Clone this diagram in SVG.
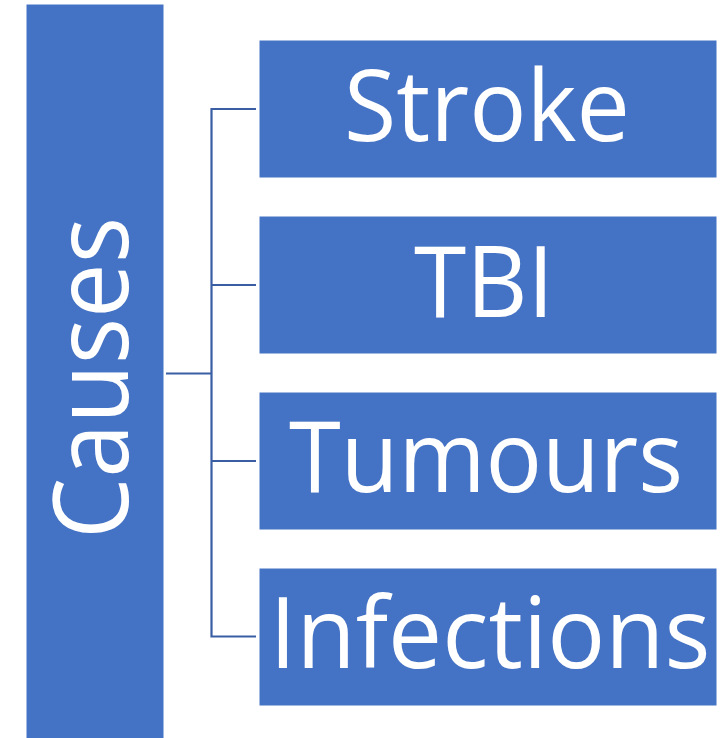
<svg xmlns="http://www.w3.org/2000/svg" width="728" height="738" viewBox="0 0 728 738">
  <style>
    .box { fill: #4472C4; stroke: #ffffff; stroke-width: 1; }
    .lbl { fill: #ffffff; font-family: "Open Sans", "Noto Sans", "Liberation Sans", sans-serif; font-size: 98px; text-anchor: middle; }
    .conn { fill: none; stroke: #3A5EA4; stroke-width: 2.2; }
  </style>
  <rect width="728" height="738" fill="#ffffff"/>
  <g id="connectors">
    <path class="conn" d="M166 373.5 H211.5"/>
    <path class="conn" d="M256 109 H211.5 V636.5 H256"/>
    <path class="conn" d="M211.5 285 H256"/>
    <path class="conn" d="M211.5 461 H256"/>
  </g>
  <g id="causes">
    <rect class="box" x="26" y="4" width="138" height="736"/>
    <text class="lbl" style="font-size:105px" transform="translate(128,378) rotate(-90)" x="0" y="0" textLength="322" lengthAdjust="spacingAndGlyphs">Causes</text>
  </g>
  <g id="stroke">
    <rect class="box" x="259" y="40" width="458" height="138"/>
    <text class="lbl" x="487" y="141" textLength="286" lengthAdjust="spacingAndGlyphs">Stroke</text>
  </g>
  <g id="tbi">
    <rect class="box" x="259" y="216" width="458" height="138"/>
    <text class="lbl" x="484" y="317" textLength="140" lengthAdjust="spacingAndGlyphs">TBI</text>
  </g>
  <g id="tumours">
    <rect class="box" x="259" y="392" width="458" height="138"/>
    <text class="lbl" x="486" y="492" textLength="394" lengthAdjust="spacingAndGlyphs">Tumours</text>
  </g>
  <g id="infections">
    <rect class="box" x="259" y="568" width="458" height="138"/>
    <text class="lbl" x="490" y="668" textLength="441" lengthAdjust="spacingAndGlyphs">Infections</text>
  </g>
</svg>
